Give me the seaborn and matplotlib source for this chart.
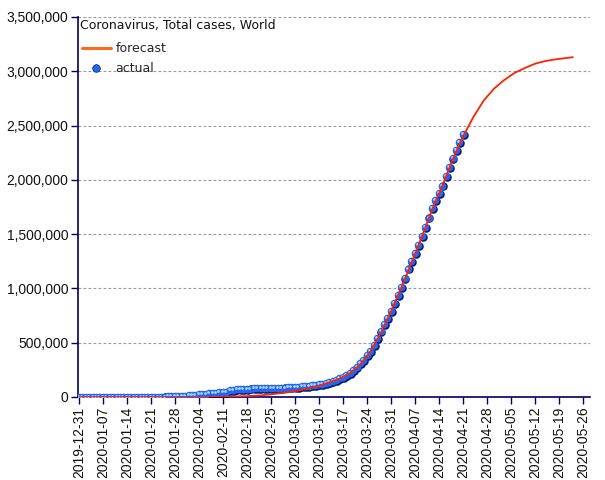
import matplotlib
matplotlib.use("Agg")
import matplotlib.pyplot as plt
import matplotlib.dates as mdates
import matplotlib.transforms as mtransforms
from matplotlib.lines import Line2D
from matplotlib.ticker import FuncFormatter
import seaborn as sns
import pandas as pd

# ---- data ----
actual_start = "2019-12-31"
actual_values = [
    27, 27, 27, 44, 44, 59, 59, 59, 59, 59, 59, 59, 59, 60, 60, 61, 61, 66, 83, 219,
    239, 392, 534, 631, 897, 1350, 2023, 2820, 4587, 6067, 7823, 9826,
    11946, 14554, 17372, 20615, 24522, 28273, 31491, 34933, 37552, 40553, 43099, 45170,
    59283, 64437, 67100, 69197, 71329, 73332, 75184, 75700, 76677, 77673, 78651, 79205,
    80087, 80828, 81820, 83112, 84615,
    86604, 88585, 90443, 93016, 95314, 98425, 102050, 106099, 109991, 114381, 118948,
    126214, 134576, 145483, 156653, 169593, 182490, 198238, 218822, 246417, 275875,
    308464, 341365, 383645, 424048, 474404, 537069, 603127, 669312, 726934, 786210,
    859094, 935432, 1012824, 1094440, 1180084, 1250046, 1323043, 1397151, 1483178,
    1565524, 1650290, 1734913, 1807298, 1873265, 1944887, 2032998, 2114307, 2196114,
    2270793, 2345441, 2420849,
]
forecast_dates = [
    "2019-12-31", "2020-02-01", "2020-02-10", "2020-02-18", "2020-02-22", "2020-02-25",
    "2020-02-29", "2020-03-03", "2020-03-07", "2020-03-10", "2020-03-13", "2020-03-16",
    "2020-03-19", "2020-03-22", "2020-03-25", "2020-03-28", "2020-03-31", "2020-04-03",
    "2020-04-06", "2020-04-09", "2020-04-12", "2020-04-15", "2020-04-18", "2020-04-21",
    "2020-04-24", "2020-04-27", "2020-04-30", "2020-05-03", "2020-05-06", "2020-05-09",
    "2020-05-12", "2020-05-15", "2020-05-18", "2020-05-23",
]
forecast_values = [
    0, 0, 2000, 8000, 15000, 25000,
    40000, 55000, 80000, 105000, 135000, 170000,
    220000, 300000, 420000, 590000, 790000, 1010000,
    1240000, 1480000, 1730000, 1950000, 2190000, 2400000,
    2580000, 2730000, 2840000, 2920000, 2985000, 3030000,
    3070000, 3095000, 3110000, 3130000,
]
x_ticks = pd.date_range("2019-12-31", "2020-05-26", freq="7D")
y_ticks = [0, 500000, 1000000, 1500000, 2000000, 2500000, 3000000, 3500000]
title_text = "Coronavirus, Total cases, World"
series_names = ["forecast", "actual"]

actual_df = pd.DataFrame({
    "date": pd.date_range(actual_start, periods=len(actual_values), freq="D"),
    "cases": actual_values,
})
forecast_df = pd.DataFrame({"date": pd.to_datetime(forecast_dates), "cases": forecast_values})

# ---- figure ----
sns.set_style("white")
plt.rcParams["font.family"] = ["DejaVu Sans"]
fig = plt.figure(figsize=(6.05, 4.8), dpi=100)
ax = fig.add_axes([78 / 605, 1 - 397 / 480, (590 - 78) / 605, (397 - 17) / 480])

navy = "#000066"
ax.set_ylim(0, 3500000)
ax.set_xlim(pd.Timestamp("2019-12-31") - pd.Timedelta(hours=8), pd.Timestamp("2020-05-28"))

for y in y_ticks[1:]:
    ax.axhline(y, color="#999999", lw=0.8, ls=(0, (2.5, 2)), zorder=0)

# sphere-like markers: dark shadow, blue body, light highlight
sh = mtransforms.offset_copy(ax.transData, fig=fig, x=0.6, y=-0.6, units="dots")
ax.scatter(actual_df["date"], actual_df["cases"], s=38, color="#061c7a", lw=0,
           transform=sh, zorder=2)
body = mtransforms.offset_copy(ax.transData, fig=fig, x=-0.3, y=0.3, units="dots")
sns.scatterplot(data=actual_df, x="date", y="cases", ax=ax, s=30, color="#2466ee",
                linewidth=0, zorder=3, legend=False, transform=body)
hl = mtransforms.offset_copy(ax.transData, fig=fig, x=-1.3, y=1.3, units="dots")
ax.scatter(actual_df["date"], actual_df["cases"], s=4, color="#a8d4ff", lw=0,
           transform=hl, zorder=4)
sns.lineplot(data=forecast_df, x="date", y="cases", ax=ax, color="#ff2200", lw=1.3,
             zorder=5, legend=False)

ax.set_xticks(x_ticks)
ax.xaxis.set_major_formatter(mdates.DateFormatter("%Y-%m-%d"))
ax.set_yticks(y_ticks)
ax.yaxis.set_major_formatter(FuncFormatter(lambda v, p: f"{int(v):,}"))
for lab in ax.get_xticklabels() + ax.get_yticklabels():
    lab.set_fontfamily("Liberation Sans")
    lab.set_fontsize(10)
    lab.set_color("#111111")
plt.setp(ax.get_xticklabels(), rotation=90)
ax.tick_params(axis="both", direction="out", length=5, width=1, color=navy, pad=2,
               left=True, bottom=True)
ax.set_xlabel("")
ax.set_ylabel("")
for s in ["top", "right"]:
    ax.spines[s].set_visible(False)
for s in ["left", "bottom"]:
    ax.spines[s].set_color(navy)
    ax.spines[s].set_linewidth(1.2)

ax.text(80 / 605, 1 - 26 / 480, title_text, transform=fig.transFigure, fontsize=9,
        ha="left", va="center", color="#111111")
handles = [
    Line2D([], [], color="#ff6a1a", lw=2.2),
    Line2D([], [], color="#2466ee", marker="o", ls="none", markersize=5.5,
           markeredgecolor="#061c7a", markeredgewidth=0.5),
]
leg = ax.legend(handles, series_names, loc="upper left",
                bbox_to_anchor=(82 / 605, 1 - 42 / 480), bbox_transform=fig.transFigure,
                frameon=False, fontsize=9, handlelength=2.3, handletextpad=0.4,
                labelspacing=0.55, borderaxespad=0.0, borderpad=0.0)

fig.savefig("out.png", dpi=100)
